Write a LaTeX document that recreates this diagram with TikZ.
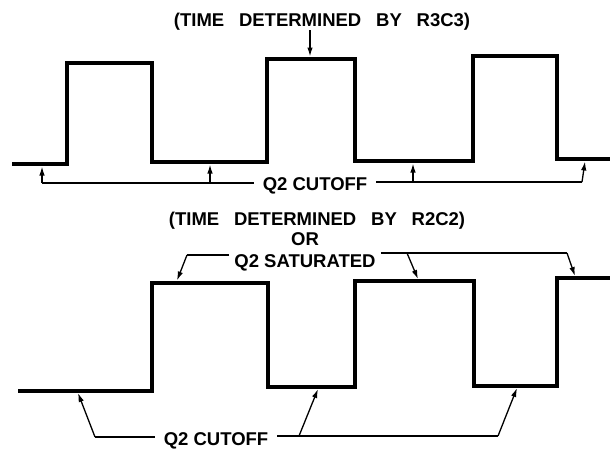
\documentclass[tikz,border=0pt]{standalone}
\usepackage{fontspec}
\setmainfont{Liberation Sans}
\usetikzlibrary{arrows.meta}
\tikzset{
  wave/.style={line width=4pt, line join=miter},
  lead/.style={line width=1.3pt},
  leadarrow/.style={line width=1.3pt, -{Latex[length=9pt,width=5.5pt]}},
  lbl/.style={font=\fontsize{18.5}{20}\selectfont\bfseries, anchor=base, inner ysep=0pt, inner xsep=9pt},
}
\newcommand{\wgap}{\hspace{0.8em}}

\begin{document}
\begin{tikzpicture}[x=1pt,y=-1pt]
\useasboundingbox (0,0) rectangle (610,448);
% upper trace
\draw[wave] (12,164) -- (67,164) -- (67,63) -- (152,63) -- (152,162) -- (267,162) -- (267,59) -- (355,59) -- (355,161) -- (473,161) -- (473,56) -- (557,56) -- (557,159) -- (610,159);
% lower trace
\draw[wave] (18,391) -- (152,391) -- (152,283) -- (268,283) -- (268,387) -- (355,387) -- (355,281) -- (474,281) -- (474,386) -- (557,386) -- (557,278) -- (610,278);

\node[lbl] (timeA) at (322,26) {(TIME\wgap DETERMINED\wgap BY\wgap R3C3)};
\node[lbl] (cutA) at (315,190) {Q2 CUTOFF};
\node[lbl] (timeB) at (317,225) {(TIME\wgap DETERMINED\wgap BY\wgap R2C2)};
\node[lbl] (orB) at (305,245) {OR};
\node[lbl,inner xsep=5pt] (satB) at (305,267) {Q2 SATURATED};
\node[lbl] (cutB) at (216,445) {Q2 CUTOFF};

% R3C3 arrow
\coordinate (t1) at (310,56.5);
\draw[leadarrow] (timeA.south -| t1) -- (t1);

% upper cutoff
\coordinate (uL) at (42,183);
\coordinate (uR) at (582,182);
\coordinate (u1) at (42,166.5);
\coordinate (u2) at (210,164.5);
\coordinate (u3) at (413,163.5);
\coordinate (u4) at (585,161.5);
\draw[lead] (cutA.west |- uL) -- (uL);
\draw[leadarrow] (uL) -- (u1);
\draw[leadarrow] (u2 |- uL) -- (u2);
\draw[lead] (cutA.east |- uR) -- (uR);
\draw[leadarrow] (u3 |- uR) -- (u3);
\draw[leadarrow] (uR) -- (u4);

% saturated
\coordinate (sL) at (187,255);
\coordinate (s1) at (177,280.5);
\coordinate (sB) at (407,253);
\coordinate (s2) at (418,279);
\coordinate (sR) at (567,253);
\coordinate (s3) at (575,276);
\draw[lead] (satB.west |- sL) -- (sL);
\draw[leadarrow] (sL) -- (s1);
\draw[lead] (satB.east |- sR) -- (sR);
\draw[leadarrow] (sB) -- (s2);
\draw[leadarrow] (sR) -- (s3);

% lower cutoff
\coordinate (cL) at (95,437);
\coordinate (c1) at (78,393);
\coordinate (cB) at (299,436);
\coordinate (c2) at (318,389);
\coordinate (cR) at (498,436);
\coordinate (c3) at (517,388);
\draw[lead] (cutB.west |- cL) -- (cL);
\draw[leadarrow] (cL) -- (c1);
\draw[lead] (cutB.east |- cR) -- (cR);
\draw[leadarrow] (cB) -- (c2);
\draw[leadarrow] (cR) -- (c3);
\end{tikzpicture}
\end{document}
